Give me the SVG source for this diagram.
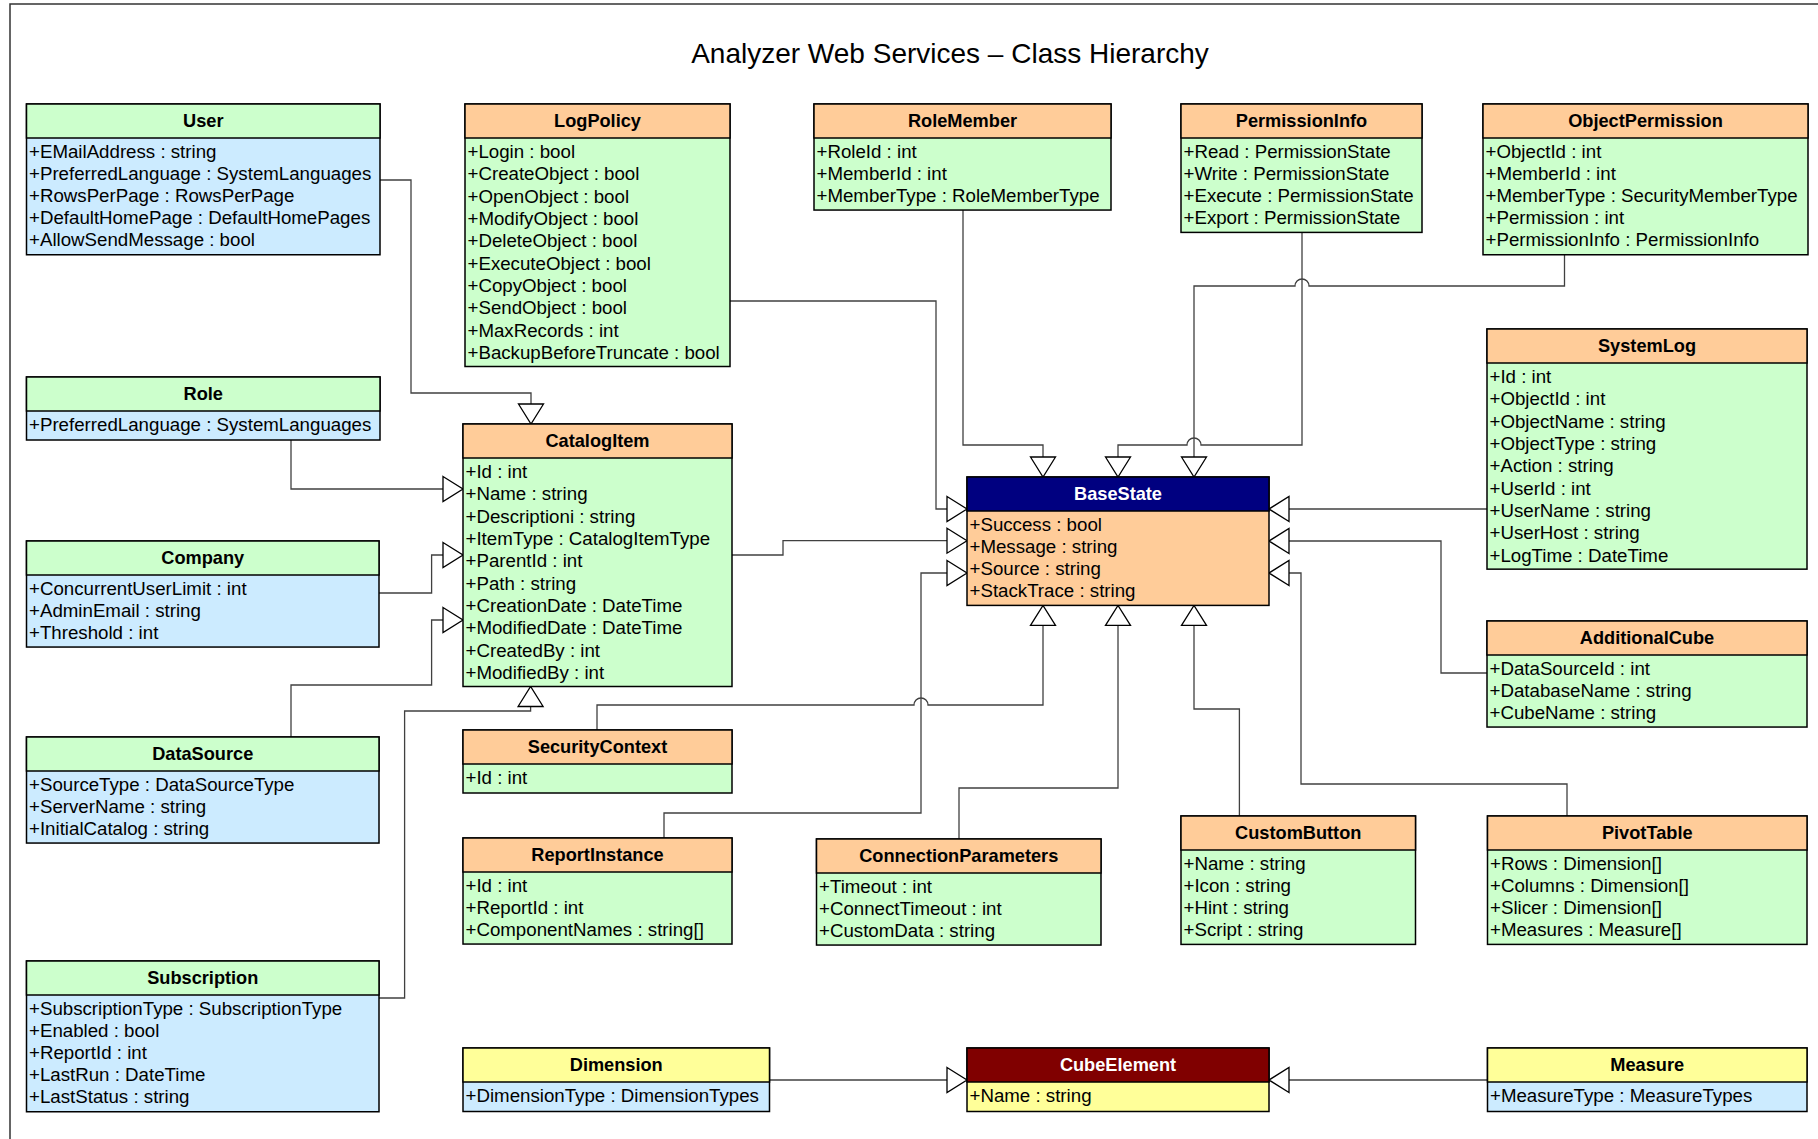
<svg xmlns="http://www.w3.org/2000/svg" width="1818" height="1139" viewBox="0 0 1818 1139">
<style>
.bg{fill:#fff}
.box{stroke:#000;stroke-width:1.5}
.o{fill:#FFCC99}.g{fill:#CCFFCC}.b{fill:#CCEBFF}.y{fill:#FFFF99}.n{fill:#000080}.m{fill:#800000}
text{font-family:"Liberation Sans",Arial,sans-serif;font-size:18.7px;fill:#000}
.t{font-weight:bold;text-anchor:middle;font-size:18.2px}
.w{fill:#fff}
.c{fill:none;stroke:#404040;stroke-width:1.3}
.title{font-size:28px;text-anchor:middle}
</style>
<defs>
<marker id="gen" viewBox="0 0 22 26" markerWidth="22" markerHeight="26" refX="21" refY="13" orient="auto" markerUnits="userSpaceOnUse" overflow="visible">
<path d="M1,0.5 L21,13 L1,25.5 Z" fill="#fff" stroke="#000" stroke-width="1.3"/>
</marker>
</defs>
<rect class="bg" x="0" y="0" width="1818" height="1139"/>
<path d="M10,1139 V4 H1818" fill="none" stroke="#333" stroke-width="1.5"/>
<text class="title" x="950" y="63">Analyzer Web Services – Class Hierarchy</text>

<g id="connectors">
<path class="c" marker-end="url(#gen)" d="M380,180 H411 V393 H531 V424"/>
<path class="c" marker-end="url(#gen)" d="M291,439 V489 H463"/>
<path class="c" marker-end="url(#gen)" d="M379,593 H431.6 V555 H463"/>
<path class="c" marker-end="url(#gen)" d="M291,737 V685 H431.6 V620 H463"/>
<path class="c" marker-end="url(#gen)" d="M379,998 H404.6 V711 H530.6 V686.5"/>
<path class="c" marker-end="url(#gen)" d="M730,301 H936 V509 H967"/>
<path class="c" marker-end="url(#gen)" d="M732,555 H783 V540.7 H967"/>
<path class="c" marker-end="url(#gen)" d="M664,838 V813 H921 V573 H967"/>
<path class="c" marker-end="url(#gen)" d="M597,730 V705 H914 A7,7 0 0 1 928,705 H1043 V605.4"/>
<path class="c" marker-end="url(#gen)" d="M959,839 V788 H1118 V605.4"/>
<path class="c" marker-end="url(#gen)" d="M1239.4,816 V709 H1194 V605.4"/>
<path class="c" marker-end="url(#gen)" d="M1567,816 V784 H1301 V573 H1269"/>
<path class="c" marker-end="url(#gen)" d="M1487,673 H1441 V541 H1269"/>
<path class="c" marker-end="url(#gen)" d="M1487,509 H1269"/>
<path class="c" marker-end="url(#gen)" d="M963,210 V445 H1043 V477"/>
<path class="c" marker-end="url(#gen)" d="M1302,232.4 V445 H1201 A7,7 0 0 0 1187,445 H1118 V477"/>
<path class="c" marker-end="url(#gen)" d="M1564.5,255 V286 H1309 A7,7 0 0 0 1295,286 H1194 V477"/>
<path class="c" marker-end="url(#gen)" d="M769.5,1080 H967"/>
<path class="c" marker-end="url(#gen)" d="M1487.5,1080 H1269"/>
</g>

<g id="User">
<rect class="box b" x="26.5" y="104" width="353.5" height="150.75"/>
<rect class="box g" x="26.5" y="104" width="353.5" height="34"/>
<text class="t" x="203.25" y="126.8">User</text>
<text x="29" y="157.5">+EMailAddress : string</text>
<text x="29" y="179.65">+PreferredLanguage : SystemLanguages</text>
<text x="29" y="201.8">+RowsPerPage : RowsPerPage</text>
<text x="29" y="223.95">+DefaultHomePage : DefaultHomePages</text>
<text x="29" y="246.1">+AllowSendMessage : bool</text>
</g>

<g id="LogPolicy">
<rect class="box g" x="465" y="104" width="265" height="262.5"/>
<rect class="box o" x="465" y="104" width="265" height="34"/>
<text class="t" x="597.5" y="126.8">LogPolicy</text>
<text x="467.5" y="157.8">+Login : bool</text>
<text x="467.5" y="180.15">+CreateObject : bool</text>
<text x="467.5" y="202.5">+OpenObject : bool</text>
<text x="467.5" y="224.85">+ModifyObject : bool</text>
<text x="467.5" y="247.2">+DeleteObject : bool</text>
<text x="467.5" y="269.55">+ExecuteObject : bool</text>
<text x="467.5" y="291.9">+CopyObject : bool</text>
<text x="467.5" y="314.25">+SendObject : bool</text>
<text x="467.5" y="336.6">+MaxRecords : int</text>
<text x="467.5" y="358.95">+BackupBeforeTruncate : bool</text>
</g>

<g id="RoleMember">
<rect class="box g" x="814" y="104" width="297" height="106.05"/>
<rect class="box o" x="814" y="104" width="297" height="34"/>
<text class="t" x="962.5" y="126.8">RoleMember</text>
<text x="816.5" y="157.5">+RoleId : int</text>
<text x="816.5" y="179.65">+MemberId : int</text>
<text x="816.5" y="201.8">+MemberType : RoleMemberType</text>
</g>

<g id="PermissionInfo">
<rect class="box g" x="1181" y="104" width="241" height="128.4"/>
<rect class="box o" x="1181" y="104" width="241" height="34"/>
<text class="t" x="1301.5" y="126.8">PermissionInfo</text>
<text x="1183.5" y="157.5">+Read : PermissionState</text>
<text x="1183.5" y="179.65">+Write : PermissionState</text>
<text x="1183.5" y="201.8">+Execute : PermissionState</text>
<text x="1183.5" y="223.95">+Export : PermissionState</text>
</g>

<g id="ObjectPermission">
<rect class="box g" x="1483" y="104" width="325" height="150.75"/>
<rect class="box o" x="1483" y="104" width="325" height="34"/>
<text class="t" x="1645.5" y="126.8">ObjectPermission</text>
<text x="1485.5" y="157.5">+ObjectId : int</text>
<text x="1485.5" y="179.65">+MemberId : int</text>
<text x="1485.5" y="201.8">+MemberType : SecurityMemberType</text>
<text x="1485.5" y="223.95">+Permission : int</text>
<text x="1485.5" y="246.1">+PermissionInfo : PermissionInfo</text>
</g>

<g id="SystemLog">
<rect class="box g" x="1487" y="329" width="320" height="240.15"/>
<rect class="box o" x="1487" y="329" width="320" height="34"/>
<text class="t" x="1647" y="351.8">SystemLog</text>
<text x="1489.5" y="382.8">+Id : int</text>
<text x="1489.5" y="405.15">+ObjectId : int</text>
<text x="1489.5" y="427.5">+ObjectName : string</text>
<text x="1489.5" y="449.85">+ObjectType : string</text>
<text x="1489.5" y="472.2">+Action : string</text>
<text x="1489.5" y="494.55">+UserId : int</text>
<text x="1489.5" y="516.9">+UserName : string</text>
<text x="1489.5" y="539.25">+UserHost : string</text>
<text x="1489.5" y="561.6">+LogTime : DateTime</text>
</g>

<g id="Role">
<rect class="box b" x="26.5" y="377" width="353.5" height="63"/>
<rect class="box g" x="26.5" y="377" width="353.5" height="34"/>
<text class="t" x="203.25" y="399.8">Role</text>
<text x="29" y="430.5">+PreferredLanguage : SystemLanguages</text>
</g>

<g id="CatalogItem">
<rect class="box g" x="463" y="424" width="269" height="262.5"/>
<rect class="box o" x="463" y="424" width="269" height="34"/>
<text class="t" x="597.5" y="446.8">CatalogItem</text>
<text x="465.5" y="477.8">+Id : int</text>
<text x="465.5" y="500.15">+Name : string</text>
<text x="465.5" y="522.5">+Descriptioni : string</text>
<text x="465.5" y="544.85">+ItemType : CatalogItemType</text>
<text x="465.5" y="567.2">+ParentId : int</text>
<text x="465.5" y="589.55">+Path : string</text>
<text x="465.5" y="611.9">+CreationDate : DateTime</text>
<text x="465.5" y="634.25">+ModifiedDate : DateTime</text>
<text x="465.5" y="656.6">+CreatedBy : int</text>
<text x="465.5" y="678.95">+ModifiedBy : int</text>
</g>

<g id="Company">
<rect class="box b" x="26.5" y="541" width="352.5" height="106.05"/>
<rect class="box g" x="26.5" y="541" width="352.5" height="34"/>
<text class="t" x="202.75" y="563.8">Company</text>
<text x="29" y="594.5">+ConcurrentUserLimit : int</text>
<text x="29" y="616.65">+AdminEmail : string</text>
<text x="29" y="638.8">+Threshold : int</text>
</g>

<g id="BaseState">
<rect class="box o" x="967" y="477" width="302" height="128.4"/>
<rect class="box n" x="967" y="477" width="302" height="34"/>
<text class="t w" x="1118" y="499.8">BaseState</text>
<text x="969.5" y="530.5">+Success : bool</text>
<text x="969.5" y="552.65">+Message : string</text>
<text x="969.5" y="574.8">+Source : string</text>
<text x="969.5" y="596.95">+StackTrace : string</text>
</g>

<g id="AdditionalCube">
<rect class="box g" x="1487" y="621" width="320" height="106.05"/>
<rect class="box o" x="1487" y="621" width="320" height="34"/>
<text class="t" x="1647" y="643.8">AdditionalCube</text>
<text x="1489.5" y="674.5">+DataSourceId : int</text>
<text x="1489.5" y="696.65">+DatabaseName : string</text>
<text x="1489.5" y="718.8">+CubeName : string</text>
</g>

<g id="DataSource">
<rect class="box b" x="26.5" y="737" width="352.5" height="106.05"/>
<rect class="box g" x="26.5" y="737" width="352.5" height="34"/>
<text class="t" x="202.75" y="759.8">DataSource</text>
<text x="29" y="790.5">+SourceType : DataSourceType</text>
<text x="29" y="812.65">+ServerName : string</text>
<text x="29" y="834.8">+InitialCatalog : string</text>
</g>

<g id="SecurityContext">
<rect class="box g" x="463" y="730" width="269" height="63"/>
<rect class="box o" x="463" y="730" width="269" height="34"/>
<text class="t" x="597.5" y="752.8">SecurityContext</text>
<text x="465.5" y="783.5">+Id : int</text>
</g>

<g id="ReportInstance">
<rect class="box g" x="463" y="838" width="269" height="106.05"/>
<rect class="box o" x="463" y="838" width="269" height="34"/>
<text class="t" x="597.5" y="860.8">ReportInstance</text>
<text x="465.5" y="891.5">+Id : int</text>
<text x="465.5" y="913.65">+ReportId : int</text>
<text x="465.5" y="935.8">+ComponentNames : string[]</text>
</g>

<g id="ConnectionParameters">
<rect class="box g" x="816.5" y="839" width="284.5" height="106.05"/>
<rect class="box o" x="816.5" y="839" width="284.5" height="34"/>
<text class="t" x="958.75" y="861.8">ConnectionParameters</text>
<text x="819" y="892.5">+Timeout : int</text>
<text x="819" y="914.65">+ConnectTimeout : int</text>
<text x="819" y="936.8">+CustomData : string</text>
</g>

<g id="CustomButton">
<rect class="box g" x="1181" y="816" width="234.5" height="128.4"/>
<rect class="box o" x="1181" y="816" width="234.5" height="34"/>
<text class="t" x="1298.25" y="838.8">CustomButton</text>
<text x="1183.5" y="869.5">+Name : string</text>
<text x="1183.5" y="891.65">+Icon : string</text>
<text x="1183.5" y="913.8">+Hint : string</text>
<text x="1183.5" y="935.95">+Script : string</text>
</g>

<g id="PivotTable">
<rect class="box g" x="1487.5" y="816" width="319.5" height="128.4"/>
<rect class="box o" x="1487.5" y="816" width="319.5" height="34"/>
<text class="t" x="1647.25" y="838.8">PivotTable</text>
<text x="1490" y="869.5">+Rows : Dimension[]</text>
<text x="1490" y="891.65">+Columns : Dimension[]</text>
<text x="1490" y="913.8">+Slicer : Dimension[]</text>
<text x="1490" y="935.95">+Measures : Measure[]</text>
</g>

<g id="Subscription">
<rect class="box b" x="26.5" y="961" width="352.5" height="150.75"/>
<rect class="box g" x="26.5" y="961" width="352.5" height="34"/>
<text class="t" x="202.75" y="983.8">Subscription</text>
<text x="29" y="1014.5">+SubscriptionType : SubscriptionType</text>
<text x="29" y="1036.65">+Enabled : bool</text>
<text x="29" y="1058.8">+ReportId : int</text>
<text x="29" y="1080.95">+LastRun : DateTime</text>
<text x="29" y="1103.1">+LastStatus : string</text>
</g>

<g id="Dimension">
<rect class="box b" x="463" y="1048" width="306.5" height="63.5"/>
<rect class="box y" x="463" y="1048" width="306.5" height="34"/>
<text class="t" x="616.25" y="1070.8">Dimension</text>
<text x="465.5" y="1101.5">+DimensionType : DimensionTypes</text>
</g>

<g id="CubeElement">
<rect class="box y" x="967" y="1048" width="302" height="63.5"/>
<rect class="box m" x="967" y="1048" width="302" height="34"/>
<text class="t w" x="1118" y="1070.8">CubeElement</text>
<text x="969.5" y="1101.5">+Name : string</text>
</g>

<g id="Measure">
<rect class="box b" x="1487.5" y="1048" width="319.5" height="63.5"/>
<rect class="box y" x="1487.5" y="1048" width="319.5" height="34"/>
<text class="t" x="1647.25" y="1070.8">Measure</text>
<text x="1490" y="1101.5">+MeasureType : MeasureTypes</text>
</g>
</svg>
